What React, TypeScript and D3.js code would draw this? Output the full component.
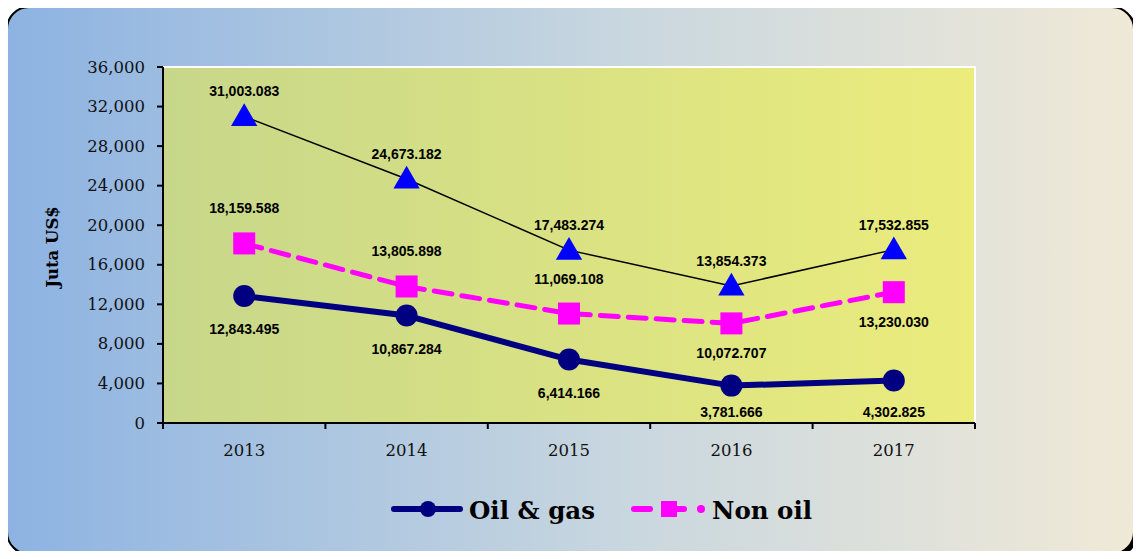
import * as d3 from "d3";

const YEARS = ["2013", "2014", "2015", "2016", "2017"];
const OIL_GAS = [12843.495, 10867.284, 6414.166, 3781.666, 4302.825];
const NON_OIL = [18159.588, 13805.898, 11069.108, 10072.707, 13230.03];
const TOTAL = [31003.083, 24673.182, 17483.274, 13854.373, 17532.855];
const Y_TICKS = [0, 4000, 8000, 12000, 16000, 20000, 24000, 28000, 32000, 36000];

// label placement: above or below the marker
const NON_OIL_LABEL_POS = ["up", "up", "up", "down", "down"];

const W = 1141;
const H = 559;
const PLOT = { left: 163, right: 975, top: 67, bottom: 423 };

const fmt = (v: number) => d3.format(",.3f")(v);
const SERIF = "'DejaVu Serif', 'Liberation Serif', serif";
const SANS = "'Liberation Sans', Arial, sans-serif";

export default function App() {
  const x = d3.scaleBand().domain(YEARS).range([PLOT.left, PLOT.right]);
  const y = d3.scaleLinear().domain([0, 36000]).range([PLOT.bottom, PLOT.top]);
  const cx = (yr: string) => (x(yr) ?? 0) + x.bandwidth() / 2;

  const line = d3
    .line<number>()
    .x((_, i) => cx(YEARS[i]))
    .y((d) => y(d));

  const tri = d3.symbol().type(d3.symbolTriangle).size(300)();

  return (
    <div style={{ margin: -8 }}>
      <svg width={W} height={H} style={{ display: "block" }}>
        <defs>
          <linearGradient id="bg" x1="0" x2="1" y1="0" y2="0">
            <stop offset="0%" stopColor="#8db3e2" />
            <stop offset="55%" stopColor="#c9d7df" />
            <stop offset="100%" stopColor="#f0e9d7" />
          </linearGradient>
          <linearGradient id="plotbg" x1="0" x2="1" y1="0" y2="0">
            <stop offset="0%" stopColor="#c7d78a" />
            <stop offset="100%" stopColor="#ebec7c" />
          </linearGradient>
        </defs>
        <rect x={0} y={0} width={W} height={H} fill="#ffffff" />
        <rect x={9} y={9} width={1128} height={548} rx={22} fill="#000" />
        <rect x={7} y={7} width={1127} height={547} rx={22} fill="url(#bg)" stroke="#000" strokeWidth={2} />

        {/* plot area */}
        <rect
          x={PLOT.left}
          y={PLOT.top}
          width={PLOT.right - PLOT.left}
          height={PLOT.bottom - PLOT.top}
          fill="url(#plotbg)"
          stroke="#ffffff"
          strokeWidth={2}
        />

        {/* y axis */}
        <line x1={PLOT.left} x2={PLOT.left} y1={PLOT.top} y2={PLOT.bottom} stroke="#000" strokeWidth={2} />
        {Y_TICKS.map((t) => (
          <g key={t}>
            <line x1={PLOT.left - 6} x2={PLOT.left} y1={y(t)} y2={y(t)} stroke="#000" strokeWidth={2} />
            <text
              x={PLOT.left - 18}
              y={y(t)}
              textAnchor="end"
              dominantBaseline="central"
              fontFamily={SERIF}
              fontSize={16.5}
              fill="#111"
            >
              {d3.format(",")(t)}
            </text>
          </g>
        ))}
        <text
          transform={`translate(52,${(PLOT.top + PLOT.bottom) / 2 + 2}) rotate(-90)`}
          textAnchor="middle"
          dominantBaseline="central"
          fontFamily={SERIF}
          fontWeight="bold"
          fontSize={16.5}
        >
          Juta US$
        </text>

        {/* x axis */}
        <line x1={PLOT.left} x2={PLOT.right} y1={PLOT.bottom} y2={PLOT.bottom} stroke="#000" strokeWidth={2} />
        {YEARS.map((yr) => (
          <line
            key={"t" + yr}
            x1={x(yr)}
            x2={x(yr)}
            y1={PLOT.bottom}
            y2={PLOT.bottom + 6}
            stroke="#000"
            strokeWidth={2}
          />
        ))}
        <line x1={PLOT.right} x2={PLOT.right} y1={PLOT.bottom} y2={PLOT.bottom + 6} stroke="#000" strokeWidth={2} />
        {YEARS.map((yr) => (
          <text
            key={"l" + yr}
            x={cx(yr)}
            y={PLOT.bottom + 27}
            textAnchor="middle"
            dominantBaseline="central"
            fontFamily={SERIF}
            fontSize={16.5}
            fill="#111"
          >
            {yr}
          </text>
        ))}

        {/* total series */}
        <path d={line(TOTAL) ?? ""} fill="none" stroke="#000" strokeWidth={1.5} />
        {TOTAL.map((v, i) => (
          <g key={"tt" + i}>
            <path d={tri ?? ""} transform={`translate(${cx(YEARS[i])},${y(v) + 2})`} fill="#0000ff" />
            <text
              x={cx(YEARS[i])}
              y={y(v) - 25}
              textAnchor="middle"
              dominantBaseline="central"
              fontFamily={SANS}
              fontWeight="bold"
              fontSize={14}
            >
              {fmt(v)}
            </text>
          </g>
        ))}

        {/* non oil */}
        <path
          d={line(NON_OIL) ?? ""}
          fill="none"
          stroke="#ff00ff"
          strokeWidth={5}
          strokeDasharray="18,10"
          strokeLinecap="round"
        />
        {NON_OIL.map((v, i) => (
          <g key={"n" + i}>
            <rect x={cx(YEARS[i]) - 11} y={y(v) - 11} width={22} height={22} fill="#ff00ff" />
            <text
              x={cx(YEARS[i])}
              y={NON_OIL_LABEL_POS[i] === "up" ? y(v) - 35 : y(v) + 30}
              textAnchor="middle"
              dominantBaseline="central"
              fontFamily={SANS}
              fontWeight="bold"
              fontSize={14}
            >
              {fmt(v)}
            </text>
          </g>
        ))}

        {/* oil & gas */}
        <path d={line(OIL_GAS) ?? ""} fill="none" stroke="#000080" strokeWidth={6} strokeLinejoin="round" />
        {OIL_GAS.map((v, i) => (
          <g key={"o" + i}>
            <circle cx={cx(YEARS[i])} cy={y(v)} r={11} fill="#000080" />
            <text
              x={cx(YEARS[i])}
              y={Math.min(y(v) + 33, PLOT.bottom - 11)}
              textAnchor="middle"
              dominantBaseline="central"
              fontFamily={SANS}
              fontWeight="bold"
              fontSize={14}
            >
              {fmt(v)}
            </text>
          </g>
        ))}

        {/* legend */}
        <g>
          <line x1={394} x2={460} y1={509} y2={509} stroke="#000080" strokeWidth={6} strokeLinecap="round" />
          <circle cx={428} cy={509} r={8} fill="#000080" />
          <text x={469} y={510} dominantBaseline="central" fontFamily={SERIF} fontWeight="bold" fontSize={24.5}>
            Oil &amp; gas
          </text>
          <line x1={634} x2={650} y1={509} y2={509} stroke="#ff00ff" strokeWidth={6} strokeLinecap="round" />
          <rect x={661} y={501} width={16} height={16} fill="#ff00ff" />
          <line x1={677} x2={684} y1={509} y2={509} stroke="#ff00ff" strokeWidth={6} strokeLinecap="round" />
          <circle cx={701} cy={509} r={4} fill="#ff00ff" />
          <text x={712} y={510} dominantBaseline="central" fontFamily={SERIF} fontWeight="bold" fontSize={24.5}>
            Non oil
          </text>
        </g>
      </svg>
    </div>
  );
}
